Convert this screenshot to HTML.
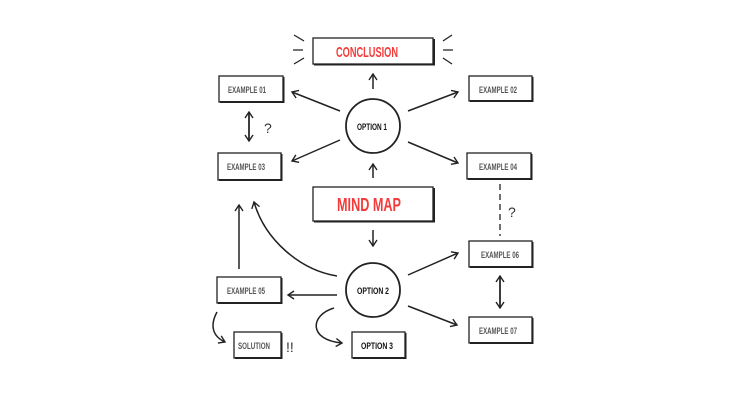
<!DOCTYPE html>
<html><head><style>
html,body{margin:0;padding:0;background:#fff;width:750px;height:400px;overflow:hidden}
svg text{font-family:"Liberation Sans",sans-serif;font-weight:bold}
</style></head><body>
<svg width="750" height="400" viewBox="0 0 750 400" xmlns="http://www.w3.org/2000/svg">
<defs>
<marker id="a" markerWidth="10" markerHeight="10" refX="7" refY="5" orient="auto" markerUnits="userSpaceOnUse">
<path d="M1,1 L7,5 L1,9" fill="none" stroke="#222" stroke-width="1.4"/>
</marker>
</defs>
<g fill="none" stroke="#222" stroke-width="1.3">
<rect x="313" y="38" width="120" height="26"/>
<path d="M314,64.5 H434 V39" stroke-width="2"/>
<rect x="313" y="187" width="120" height="34"/>
<path d="M314,221.5 H434 V188" stroke-width="2"/>
<rect x="219" y="76" width="64" height="26"/><path d="M220,102 H283.5 V77" stroke-width="2"/>
<rect x="469" y="76" width="63" height="25"/><path d="M470,101 H532.5 V77" stroke-width="2"/>
<rect x="218" y="153" width="63" height="27"/><path d="M219,180 H281.5 V154" stroke-width="2"/>
<rect x="467" y="153" width="64" height="26"/><path d="M468,179 H531.5 V154" stroke-width="2"/>
<rect x="469" y="241" width="63" height="26"/><path d="M470,267 H532.5 V242" stroke-width="2"/>
<rect x="217" y="277" width="64" height="26"/><path d="M218,303 H281.5 V278" stroke-width="2"/>
<rect x="469" y="317" width="63" height="26"/><path d="M470,343 H532.5 V318" stroke-width="2"/>
<rect x="234" y="332" width="47" height="26"/><path d="M235,358 H281.5 V333" stroke-width="2"/>
<rect x="352" y="332" width="53" height="26"/><path d="M353,358 H405.5 V333" stroke-width="2"/>
<circle cx="373" cy="126" r="27" stroke-width="1.8"/>
<circle cx="373" cy="290" r="27" stroke-width="1.8"/>
<path d="M294,35 L304,41 M293,50 H303 M294,64 L304,58 M443,41 L452,35 M443,50 H453 M443,58 L452,64"/>
<g marker-end="url(#a)" stroke-width="1.5">
<path d="M373,89 V74"/>
<path d="M340,111 L292,92"/>
<path d="M408,111 L458,92"/>
<path d="M340,140 L292,161"/>
<path d="M408,142 L458,163"/>
<path d="M373,178 V164"/>
<path d="M373,230 V246"/>
<path d="M337,295 H288"/>
<path d="M408,275 L458,253"/>
<path d="M408,306 L457,325"/>
<path d="M337,276 C300,270 265,240 254,202"/>
<path d="M239,269 V205"/>
<path d="M217,312 C210,325 212,336 225,342"/>
<path d="M334,308 C310,315 308,340 342,343"/>
<path d="M249,112 V141"/><path d="M249,141 V112"/>
<path d="M500,276 V308"/><path d="M500,308 V276"/>
</g>
<path d="M500,184 V236" stroke-dasharray="6,4"/>
</g>
<g font-size="9" fill="#555">
<text x="228" y="93" textLength="38" lengthAdjust="spacingAndGlyphs">EXAMPLE 01</text>
<text x="479" y="93" textLength="38" lengthAdjust="spacingAndGlyphs">EXAMPLE 02</text>
<text x="227" y="170" textLength="38" lengthAdjust="spacingAndGlyphs">EXAMPLE 03</text>
<text x="479" y="170" textLength="38" lengthAdjust="spacingAndGlyphs">EXAMPLE 04</text>
<text x="481" y="258" textLength="38" lengthAdjust="spacingAndGlyphs">EXAMPLE 06</text>
<text x="227" y="294" textLength="38" lengthAdjust="spacingAndGlyphs">EXAMPLE 05</text>
<text x="479" y="334" textLength="38" lengthAdjust="spacingAndGlyphs">EXAMPLE 07</text>
<text x="238" y="349" textLength="32" lengthAdjust="spacingAndGlyphs">SOLUTION</text>
</g>
<g font-size="9" fill="#111">
<text x="357" y="130" textLength="30" lengthAdjust="spacingAndGlyphs">OPTION 1</text>
<text x="357" y="294" textLength="32" lengthAdjust="spacingAndGlyphs">OPTION 2</text>
<text x="361" y="349" textLength="32" lengthAdjust="spacingAndGlyphs">OPTION 3</text>
</g>
<g fill="#f33b3b" font-size="15">
<text x="336" y="57" textLength="62" lengthAdjust="spacingAndGlyphs">CONCLUSION</text>
<text x="337" y="211" font-size="18" textLength="64" lengthAdjust="spacingAndGlyphs">MIND MAP</text>
</g>
<g fill="#333" font-size="14" style="font-weight:normal">
<text x="264" y="133" style="font-weight:normal">?</text>
<text x="508" y="217" style="font-weight:normal">?</text>
<text x="286" y="352" style="font-weight:normal">!!</text>
</g>
</svg>
</body></html>
